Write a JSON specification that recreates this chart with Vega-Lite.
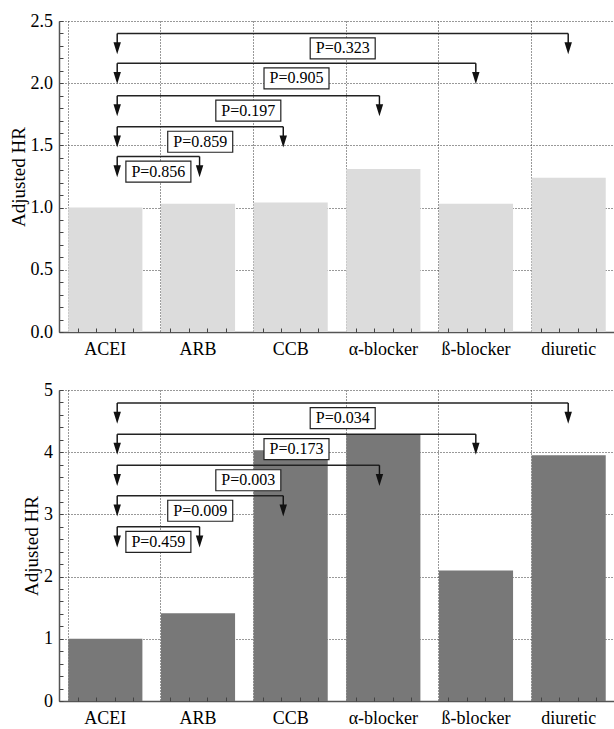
{
  "$schema": "https://vega.github.io/schema/vega-lite/v6.json",
  "padding": {"left": 9, "top": 12, "right": 0, "bottom": 0},
  "spacing": 23,
  "datasets": {
    "topBars": [
      {"drug": "ACEI", "hr": 1.0},
      {"drug": "ARB", "hr": 1.03},
      {"drug": "CCB", "hr": 1.04},
      {"drug": "α-blocker", "hr": 1.31},
      {"drug": "ß-blocker", "hr": 1.03},
      {"drug": "diuretic", "hr": 1.24}
    ],
    "topAnn": [
      {"to": "ARB", "x1": 0.628, "x2": 1.517, "level": 1.41, "p": "P=0.856"},
      {"to": "CCB", "x1": 0.628, "x2": 2.42, "level": 1.65, "p": "P=0.859"},
      {"to": "α-blocker", "x1": 0.628, "x2": 3.458, "level": 1.90, "p": "P=0.197"},
      {"to": "ß-blocker", "x1": 0.628, "x2": 4.498, "level": 2.16, "p": "P=0.905"},
      {"to": "diuretic", "x1": 0.628, "x2": 5.495, "level": 2.40, "p": "P=0.323"}
    ],
    "botBars": [
      {"drug": "ACEI", "hr": 1.0},
      {"drug": "ARB", "hr": 1.41},
      {"drug": "CCB", "hr": 4.03},
      {"drug": "α-blocker", "hr": 4.29},
      {"drug": "ß-blocker", "hr": 2.10},
      {"drug": "diuretic", "hr": 3.95}
    ],
    "botAnn": [
      {"to": "ARB", "x1": 0.628, "x2": 1.517, "level": 2.80, "p": "P=0.459"},
      {"to": "CCB", "x1": 0.628, "x2": 2.42, "level": 3.30, "p": "P=0.009"},
      {"to": "α-blocker", "x1": 0.628, "x2": 3.458, "level": 3.79, "p": "P=0.003"},
      {"to": "ß-blocker", "x1": 0.628, "x2": 4.498, "level": 4.29, "p": "P=0.173"},
      {"to": "diuretic", "x1": 0.628, "x2": 5.495, "level": 4.79, "p": "P=0.034"}
    ]
  },
  "config": {
    "view": {"stroke": null},
    "font": "Liberation Serif",
    "axis": {
      "labelFont": "Liberation Serif",
      "titleFont": "Liberation Serif",
      "labelColor": "#000",
      "titleColor": "#000",
      "titleFontWeight": "normal",
      "domainColor": "#555",
      "domainWidth": 1.5,
      "tickColor": "#444",
      "tickWidth": 1,
      "gridColor": "#333",
      "gridDash": [1, 2],
      "gridWidth": 1
    }
  },
  "vconcat": [
    {
      "width": 556,
      "height": 311,
      "resolve": {"scale": {"x": "independent"}, "axis": {"x": "independent"}},
      "layer": [
        {
          "data": {"name": "topAnn"},
          "mark": {"type": "rule", "strokeOpacity": 0},
          "encoding": {
            "x": {"field": "x1", "type": "quantitative",
              "scale": {"domain": [0, 6], "nice": false, "zero": false},
              "axis": {"orient": "bottom", "offset": -4, "title": null, "labels": false, "domain": false, "ticks": true, "tickSize": 4, "tickCount": 100, "grid": false, "zindex": 1,
                "values": [0.2,0.4,0.6,0.8,1.2,1.4,1.6,1.8,2.2,2.4,2.6,2.8,3.2,3.4,3.6,3.8,4.2,4.4,4.6,4.8,5.2,5.4,5.6,5.8]}},
            "x2": {"field": "x2"},
            "y": {"field": "level", "type": "quantitative"}
          }
        },
        {
          "data": {"name": "topBars"},
          "mark": {"type": "bar", "color": "#dcdcdc"},
          "encoding": {
            "x": {"field": "drug", "type": "nominal", "sort": null,
              "scale": {"paddingInner": 0.2, "paddingOuter": 0.1},
              "axis": {"orient": "bottom", "title": null, "ticks": false, "grid": true, "bandPosition": 0, "labelAngle": 0, "labelFontSize": 18, "labelPadding": 8}},
            "y": {"field": "hr", "type": "quantitative",
              "scale": {"domain": [0, 2.5], "nice": false},
              "axis": {"title": "Adjusted HR", "titleFontSize": 19, "titlePadding": 2, "tickCount": 100, "ticks": true,
                "values": [0,0.1,0.2,0.3,0.4,0.5,0.6,0.7,0.8,0.9,1,1.1,1.2,1.3,1.4,1.5,1.6,1.7,1.8,1.9,2,2.1,2.2,2.3,2.4,2.5],
                "labelExpr": "abs(datum.value*2 - round(datum.value*2)) < 0.001 ? format(datum.value, '.1f') : ''",
                "labelOverlap": false, "labelFontSize": 18, "labelPadding": 10.5, "tickSize": -4,
                "gridOpacity": {"condition": {"test": "abs(datum.value*2 - round(datum.value*2)) < 0.001", "value": 1}, "value": 0}}}
          }
        },
        {
          "data": {"name": "topAnn"},
          "mark": {"type": "rule", "color": "#222", "strokeWidth": 1.5},
          "encoding": {
            "x": {"field": "x1", "type": "quantitative", "scale": {"domain": [0, 6], "nice": false, "zero": false}, "axis": null},
            "x2": {"field": "x2"},
            "y": {"field": "level", "type": "quantitative"}
          }
        },
        {
          "data": {"name": "topAnn"},
          "transform": [{"fold": ["x1", "x2"], "as": ["end", "xv"]}],
          "mark": {"type": "point", "shape": "M-0.12,0L0.12,0L0.12,1.45L0.62,1.45L0,3.45L-0.62,1.45L-0.12,1.45Z", "size": 144, "filled": true, "color": "#111", "opacity": 1, "strokeWidth": 0},
          "encoding": {
            "x": {"field": "xv", "type": "quantitative", "scale": {"domain": [0, 6], "nice": false, "zero": false}, "axis": null},
            "y": {"field": "level", "type": "quantitative"}
          }
        },
        {
          "data": {"name": "topAnn"},
          "transform": [{"fold": ["x1", "x2"], "as": ["end", "xv"]}],
          "mark": {"type": "point", "shape": "M-3.25,0.45L3.25,0.45L3.25,2.55L-3.25,2.55Z", "size": 400, "filled": true, "fill": "#fff", "stroke": "#222", "strokeWidth": 1.2, "opacity": 1},
          "encoding": {
            "x": {"aggregate": "mean", "field": "xv", "type": "quantitative", "scale": {"domain": [0, 6], "nice": false, "zero": false}, "axis": null},
            "y": {"field": "level", "type": "quantitative"},
            "detail": {"field": "p"}
          }
        },
        {
          "data": {"name": "topAnn"},
          "transform": [{"fold": ["x1", "x2"], "as": ["end", "xv"]}],
          "mark": {"type": "text", "font": "Liberation Serif", "fontSize": 16, "dy": 15, "baseline": "middle", "align": "center", "color": "#000"},
          "encoding": {
            "x": {"aggregate": "mean", "field": "xv", "type": "quantitative", "scale": {"domain": [0, 6], "nice": false, "zero": false}, "axis": null},
            "y": {"field": "level", "type": "quantitative"},
            "text": {"field": "p"}
          }
        }
      ]
    },
    {
      "width": 556,
      "height": 311,
      "resolve": {"scale": {"x": "independent"}, "axis": {"x": "independent"}},
      "layer": [
        {
          "data": {"name": "botAnn"},
          "mark": {"type": "rule", "strokeOpacity": 0},
          "encoding": {
            "x": {"field": "x1", "type": "quantitative",
              "scale": {"domain": [0, 6], "nice": false, "zero": false},
              "axis": {"orient": "bottom", "offset": -4, "title": null, "labels": false, "domain": false, "ticks": true, "tickSize": 4, "tickCount": 100, "grid": false, "zindex": 1,
                "values": [0.2,0.4,0.6,0.8,1.2,1.4,1.6,1.8,2.2,2.4,2.6,2.8,3.2,3.4,3.6,3.8,4.2,4.4,4.6,4.8,5.2,5.4,5.6,5.8]}},
            "x2": {"field": "x2"},
            "y": {"field": "level", "type": "quantitative"}
          }
        },
        {
          "data": {"name": "botBars"},
          "mark": {"type": "bar", "color": "#787878"},
          "encoding": {
            "x": {"field": "drug", "type": "nominal", "sort": null,
              "scale": {"paddingInner": 0.2, "paddingOuter": 0.1},
              "axis": {"orient": "bottom", "title": null, "ticks": false, "grid": true, "bandPosition": 0, "labelAngle": 0, "labelFontSize": 18, "labelPadding": 8}},
            "y": {"field": "hr", "type": "quantitative",
              "scale": {"domain": [0, 5], "nice": false},
              "axis": {"title": "Adjusted HR", "titleFontSize": 19, "titlePadding": 2, "tickCount": 100, "ticks": true,
                "values": [0,0.2,0.4,0.6,0.8,1,1.2,1.4,1.6,1.8,2,2.2,2.4,2.6,2.8,3,3.2,3.4,3.6,3.8,4,4.2,4.4,4.6,4.8,5],
                "labelExpr": "abs(datum.value - round(datum.value)) < 0.001 ? format(datum.value, 'd') : ''",
                "labelOverlap": false, "labelFontSize": 18, "labelPadding": 10.5, "tickSize": -4,
                "gridOpacity": {"condition": {"test": "abs(datum.value - round(datum.value)) < 0.001", "value": 1}, "value": 0}}}
          }
        },
        {
          "data": {"name": "botAnn"},
          "mark": {"type": "rule", "color": "#222", "strokeWidth": 1.5},
          "encoding": {
            "x": {"field": "x1", "type": "quantitative", "scale": {"domain": [0, 6], "nice": false, "zero": false}, "axis": null},
            "x2": {"field": "x2"},
            "y": {"field": "level", "type": "quantitative"}
          }
        },
        {
          "data": {"name": "botAnn"},
          "transform": [{"fold": ["x1", "x2"], "as": ["end", "xv"]}],
          "mark": {"type": "point", "shape": "M-0.12,0L0.12,0L0.12,1.45L0.62,1.45L0,3.45L-0.62,1.45L-0.12,1.45Z", "size": 144, "filled": true, "color": "#111", "opacity": 1, "strokeWidth": 0},
          "encoding": {
            "x": {"field": "xv", "type": "quantitative", "scale": {"domain": [0, 6], "nice": false, "zero": false}, "axis": null},
            "y": {"field": "level", "type": "quantitative"}
          }
        },
        {
          "data": {"name": "botAnn"},
          "transform": [{"fold": ["x1", "x2"], "as": ["end", "xv"]}],
          "mark": {"type": "point", "shape": "M-3.25,0.45L3.25,0.45L3.25,2.55L-3.25,2.55Z", "size": 400, "filled": true, "fill": "#fff", "stroke": "#222", "strokeWidth": 1.2, "opacity": 1},
          "encoding": {
            "x": {"aggregate": "mean", "field": "xv", "type": "quantitative", "scale": {"domain": [0, 6], "nice": false, "zero": false}, "axis": null},
            "y": {"field": "level", "type": "quantitative"},
            "detail": {"field": "p"}
          }
        },
        {
          "data": {"name": "botAnn"},
          "transform": [{"fold": ["x1", "x2"], "as": ["end", "xv"]}],
          "mark": {"type": "text", "font": "Liberation Serif", "fontSize": 16, "dy": 15, "baseline": "middle", "align": "center", "color": "#000"},
          "encoding": {
            "x": {"aggregate": "mean", "field": "xv", "type": "quantitative", "scale": {"domain": [0, 6], "nice": false, "zero": false}, "axis": null},
            "y": {"field": "level", "type": "quantitative"},
            "text": {"field": "p"}
          }
        }
      ]
    }
  ]
}
